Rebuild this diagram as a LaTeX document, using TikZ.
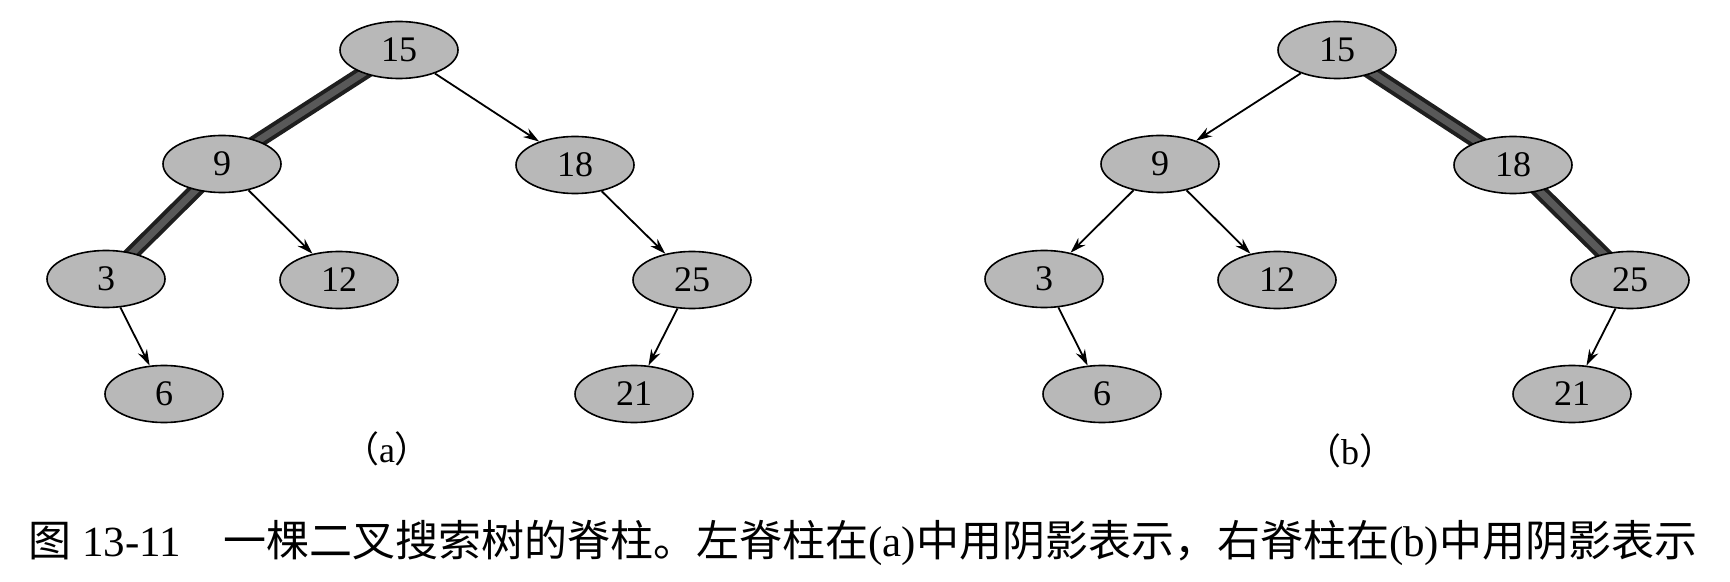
\documentclass[tikz,border=0pt]{standalone}
\usepackage{fontspec}
\setmainfont{Liberation Serif}
\newfontfamily\cjk{Noto Sans CJK SC}
\usetikzlibrary{arrows.meta,backgrounds,shapes.geometric}
\definecolor{nodegray}{HTML}{B8B8B8}
\begin{document}
\begin{tikzpicture}[x=0.5pt,y=-0.5pt,
  tnode/.style={ellipse,draw=black,line width=0.8pt,fill=nodegray,
    minimum width=59pt,minimum height=28.5pt,inner sep=0pt,
    font=\fontsize{18}{18}\selectfont},
  arr/.style={-{Stealth[length=8pt,width=5pt]},line width=0.9pt},
  spine/.style={line width=7.5pt,black!88},
  spinein/.style={line width=3.5pt,black!65},
  sublabel/.style={font=\fontsize{18}{18}\selectfont},
  captext/.style={anchor=base west,font=\fontsize{21.5}{21.5}\selectfont,inner sep=0pt}]
\useasboundingbox (0,0) rectangle (1730,582);
% tree (a)
\node[tnode] (a15) at (399,50) {15};
\node[tnode] (a9)  at (222,164) {9};
\node[tnode] (a18) at (575,165) {18};
\node[tnode] (a3)  at (106,279) {3};
\node[tnode] (a12) at (339,280) {12};
\node[tnode] (a25) at (692,280) {25};
\node[tnode] (a6)  at (164,394) {6};
\node[tnode] (a21) at (634,394) {21};
% tree (b)
\node[tnode] (b15) at (1337,50) {15};
\node[tnode] (b9)  at (1160,164) {9};
\node[tnode] (b18) at (1513,165) {18};
\node[tnode] (b3)  at (1044,279) {3};
\node[tnode] (b12) at (1277,280) {12};
\node[tnode] (b25) at (1630,280) {25};
\node[tnode] (b6)  at (1102,394) {6};
\node[tnode] (b21) at (1572,394) {21};
% spines
\begin{scope}[on background layer]
  \draw[spine] (a15.center) -- (a9.center);
  \draw[spine] (a9.center) -- (a3.center);
  \draw[spinein] (a15.center) -- (a9.center);
  \draw[spinein] (a9.center) -- (a3.center);
  \draw[spine] (b15.center) -- (b18.center);
  \draw[spine] (b18.center) -- (b25.center);
  \draw[spinein] (b15.center) -- (b18.center);
  \draw[spinein] (b18.center) -- (b25.center);
\end{scope}
% arrows (a)
\draw[arr] (a15) -- (a18);
\draw[arr] (a9) -- (a12);
\draw[arr] (a3) -- (a6);
\draw[arr] (a18) -- (a25);
\draw[arr] (a25) -- (a21);
% arrows (b)
\draw[arr] (b15) -- (b9);
\draw[arr] (b9) -- (b3);
\draw[arr] (b9) -- (b12);
\draw[arr] (b3) -- (b6);
\draw[arr] (b25) -- (b21);
% sublabels
\node[sublabel] (la) at (387,449) {{\cjk （}a{\cjk ）}};
\node[sublabel] (lb) at (1350,451) {{\cjk （}b{\cjk ）}};
% caption
\node[captext] (capnum) at (28,557) {{\cjk 图} 13-11};
\node[captext] (captxt) at (223,557) {{\cjk 一棵二叉搜索树的脊柱。左脊柱在}(a){\cjk 中用阴影表示，右脊柱在}(b){\cjk 中用阴影表示}};
\end{tikzpicture}
\end{document}
